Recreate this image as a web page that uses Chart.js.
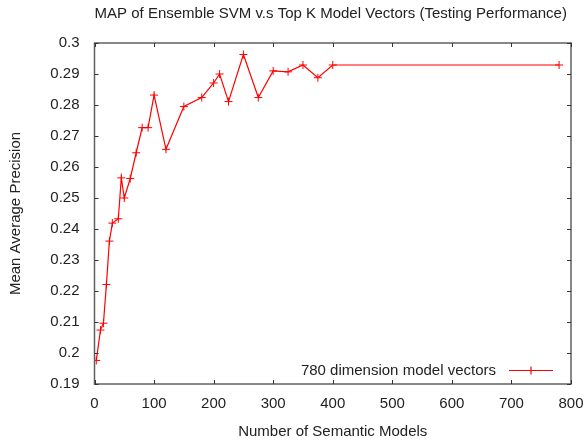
<!DOCTYPE html>
<html>
<head>
<meta charset="utf-8">
<script src="https://cdn.jsdelivr.net/npm/chart.js@4/dist/chart.umd.min.js"></script>
<style>
html,body{margin:0;padding:0;background:#fff;}
#wrap{width:585px;height:441px;position:relative;}
</style>
</head>
<body>
<div id="wrap"><canvas id="c" width="585" height="441"></canvas></div>
<script>
const titleText = "MAP of Ensemble SVM v.s Top K Model Vectors (Testing Performance)";
const xLabel = "Number of Semantic Models";
const yLabel = "Mean Average Precision";
const seriesName = "780 dimension model vectors";
const numModels = [3,10,15,20,25,30,40,45,50,60,70,80,90,100,120,150,180,200,210,225,250,275,300,325,350,375,400,780];
const mapValues = [0.1976,0.2074,0.2096,0.2221,0.2361,0.2419,0.2433,0.2565,0.2500,0.2563,0.2646,0.2727,0.2727,0.2832,0.2657,0.2795,0.2824,0.2871,0.2900,0.2811,0.2963,0.2824,0.2910,0.2907,0.2929,0.2888,0.2929,0.2929];
const xTicks = [0,100,200,300,400,500,600,700,800];
const yTicks = [0.19,0.2,0.21,0.22,0.23,0.24,0.25,0.26,0.27,0.28,0.29,0.3];

const FONT = "'Liberation Sans', Arial, sans-serif";
const TXT = '#222';
const BORDER = '#606060';

const overlay = {
  id: 'overlay',
  afterDraw(chart) {
    const ctx = chart.ctx;
    const a = chart.chartArea;
    const xs = chart.scales.x, ys = chart.scales.y;
    ctx.save();
    ctx.strokeStyle = BORDER;
    ctx.lineWidth = 1.5;
    ctx.strokeRect(a.left, a.top, a.right - a.left, a.bottom - a.top);
    ctx.lineWidth = 1;
    ctx.strokeStyle = '#333';
    const tl = 4;
    ctx.beginPath();
    xTicks.forEach(v => {
      const px = Math.round(xs.getPixelForValue(v)) + 0.5;
      ctx.moveTo(px, a.bottom); ctx.lineTo(px, a.bottom - tl);
      ctx.moveTo(px, a.top); ctx.lineTo(px, a.top + tl);
    });
    yTicks.forEach(v => {
      const py = Math.round(ys.getPixelForValue(v)) + 0.5;
      ctx.moveTo(a.left, py); ctx.lineTo(a.left + tl, py);
      ctx.moveTo(a.right, py); ctx.lineTo(a.right - tl, py);
    });
    ctx.stroke();
    ctx.fillStyle = TXT;
    ctx.font = '15px ' + FONT;
    ctx.textAlign = 'center';
    ctx.textBaseline = 'middle';
    ctx.fillText(titleText, (a.left + a.right) / 2 - 2, 14);
    const ds = chart.data.datasets[0];
    const ly = 370.5;
    const sx1 = a.right - 62, sx2 = a.right - 18;
    ctx.textAlign = 'right';
    ctx.fillText(ds.label, sx1 - 13, ly);
    ctx.strokeStyle = ds.borderColor;
    ctx.lineWidth = ds.borderWidth;
    ctx.beginPath();
    ctx.moveTo(sx1, ly); ctx.lineTo(sx2, ly);
    const mx = (sx1 + sx2) / 2;
    ctx.moveTo(mx, ly - 4); ctx.lineTo(mx, ly + 4);
    ctx.stroke();
    ctx.restore();
  }
};

new Chart(document.getElementById('c'), {
  type: 'line',
  data: {
    datasets: [{
      label: seriesName,
      data: numModels.map((x, i) => ({x: x, y: mapValues[i]})),
      borderColor: '#ff0000',
      backgroundColor: '#ff0000',
      borderWidth: 1.2,
      pointStyle: 'cross',
      pointRadius: 4,
      pointBorderWidth: 1,
      tension: 0,
      fill: false
    }]
  },
  options: {
    responsive: false,
    animation: false,
    layout: {padding: {top: 43, right: 14, left: 0, bottom: 0}},
    plugins: {
      legend: {display: false},
      title: {display: false},
      tooltip: {enabled: false}
    },
    scales: {
      x: {
        type: 'linear',
        min: 0, max: 800,
        afterBuildTicks: s => { s.ticks = xTicks.map(v => ({value: v})); },
        afterFit: s => { s.height = 57; s.paddingRight = 0; s.paddingLeft = 0; },
        grid: {display: false, drawTicks: false},
        border: {display: false},
        ticks: {padding: 11, color: TXT, font: {family: FONT, size: 15}, maxRotation: 0},
        title: {display: true, text: xLabel, color: TXT, font: {family: FONT, size: 15}, padding: {top: 4, bottom: 0}}
      },
      y: {
        type: 'linear',
        min: 0.19, max: 0.3,
        afterBuildTicks: s => { s.ticks = yTicks.map(v => ({value: v})); },
        afterFit: s => { s.width = 94.5; s.paddingTop = 0; s.paddingBottom = 0; },
        grid: {display: false, drawTicks: false},
        border: {display: false},
        ticks: {padding: 15, color: TXT, font: {family: FONT, size: 15}, callback: v => String(parseFloat(v.toFixed(2)))},
        title: {display: true, text: yLabel, color: TXT, font: {family: FONT, size: 15}, padding: {top: 7, bottom: 4}}
      }
    }
  },
  plugins: [overlay]
});
</script>
</body>
</html>
